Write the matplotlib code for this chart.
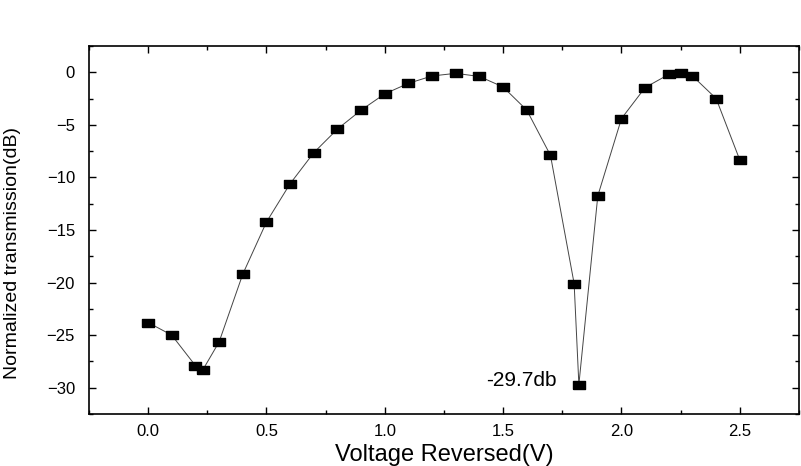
import matplotlib.pyplot as plt
import numpy as np
from matplotlib.ticker import MultipleLocator

# measured transmission vs reverse voltage
voltage = [0.0, 0.1, 0.2, 0.23, 0.3, 0.4, 0.5, 0.6, 0.7, 0.8, 0.9, 1.0,
           1.1, 1.2, 1.3, 1.4, 1.5, 1.6, 1.7, 1.8, 1.82, 1.9, 2.0, 2.1,
           2.2, 2.25, 2.3, 2.4, 2.5]
transmission = [-23.8, -25.0, -27.9, -28.35, -25.65, -19.2, -14.25, -10.6, -7.65, -5.4, -3.6, -2.05,
                -1.05, -0.35, -0.1, -0.4, -1.4, -3.6, -7.9, -20.1, -29.7, -11.75, -4.4, -1.45,
                -0.2, -0.1, -0.35, -2.5, -8.35]
note = "-29.7db"

plt.rcParams['font.family'] = ['Liberation Sans', 'DejaVu Sans']

fig = plt.figure(figsize=(8.01, 4.66), dpi=100)
ax = fig.add_axes([0.111, 0.1116, 0.8865, 0.7897])

rect = [(-1.5, -1), (1.5, -1), (1.5, 1), (-1.5, 1), (-1.5, -1)]
ax.plot(voltage, transmission, color='#444444', linewidth=0.7,
        marker=rect, markersize=8.6, markerfacecolor='black', markeredgecolor='black')

ax.text(1.726, -29.3, note, ha='right', va='center', fontsize=15)

ax.set_xlim(-0.25, 2.75)
ax.set_ylim(-32.5, 2.5)
ax.xaxis.set_major_locator(MultipleLocator(0.5))
ax.xaxis.set_minor_locator(MultipleLocator(0.25))
ax.yaxis.set_major_locator(MultipleLocator(5))
ax.yaxis.set_minor_locator(MultipleLocator(2.5))
ax.xaxis.set_major_formatter(plt.FormatStrFormatter('%.1f'))

ax.tick_params(which='both', direction='in', top=True, right=True,
               labeltop=False, labelright=False, labelsize=12, width=1.0)
ax.tick_params(axis='x', pad=7)
ax.tick_params(axis='y', pad=10)
ax.tick_params(which='major', length=5)
ax.tick_params(which='minor', length=3)
for s in ax.spines.values():
    s.set_linewidth(1.2)

ax.set_xlabel('Voltage Reversed(V)', fontsize=17, labelpad=4)
ax.set_ylabel('Normalized transmission(dB)', fontsize=14)
ax.yaxis.set_label_coords(-0.096, 0.4375)

fig.savefig('out.png', dpi=100)
